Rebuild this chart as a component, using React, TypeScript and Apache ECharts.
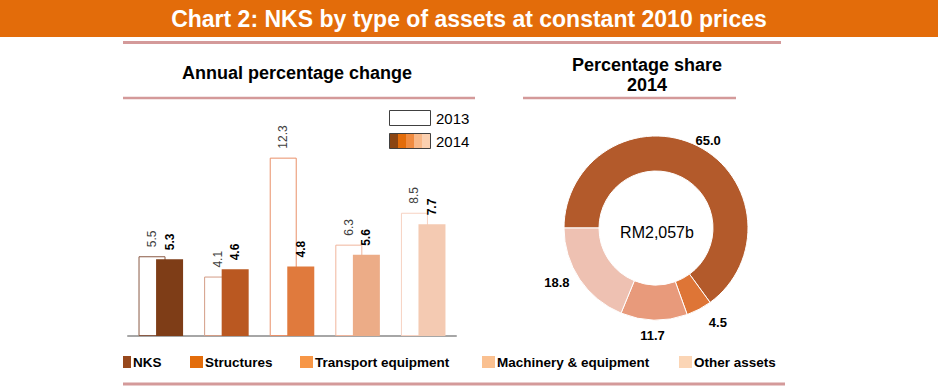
import React, { useEffect, useRef } from "react";
import * as echarts from "echarts";

const categories = ["NKS", "Structures", "Transport equipment", "Machinery & equipment", "Other assets"];
const change2013 = [5.5, 4.1, 12.3, 6.3, 8.5];
const change2014 = [5.3, 4.6, 4.8, 5.6, 7.7];
const shareCategories = ["Structures", "Transport equipment", "Machinery & equipment", "Other assets"];
const share2014 = [65.0, 4.5, 11.7, 18.8];
const yearLabels = ["2013", "2014"];
const chartTitle = "Chart 2: NKS by type of assets at constant 2010 prices";
const leftTitle = "Annual percentage change";
const rightTitle = ["Percentage share", "2014"];
const totalLabel = "RM2,057b";

const FONT = "'Liberation Sans', Arial, sans-serif";
const bar2014Colors = ["#7E3D17", "#BA5821", "#E07A3D", "#ECAC87", "#F4CAB2"];
const bar2013Borders = ["#8A5A44", "#D39C85", "#E99069", "#F0B59C", "#F7D2C2"];
const pieColors = ["#B35A2B", "#DE7536", "#E89A7B", "#EEC1B2"];
const pieLabelShift = [[-10, 0], [2, 8], [16, 10], [0, 0]];
const legendColors = ["#97481C", "#E36C0A", "#F79646", "#FAC090", "#FBD5B5"];
const stripeColors = ["#8B4513", "#E36C0A", "#F08B40", "#F8B888", "#FBD0B0"];
const legendX = [123, 190, 300, 482, 679];
const legendW = [8, 13, 13, 13, 13];
const LINE = "#D49A9A";

export default function App() {
  const ref = useRef<HTMLDivElement>(null);
  useEffect(() => {
    if (!ref.current) return;
    const chart = echarts.init(ref.current, undefined, { renderer: "svg" });

    const stops: any[] = [];
    stripeColors.forEach((c, i) => {
      stops.push({ offset: i / stripeColors.length, color: c });
      stops.push({ offset: (i + 1) / stripeColors.length, color: c });
    });

    const graphics: any[] = [
      { type: "rect", shape: { x: 0, y: 0, width: 938, height: 37 }, style: { fill: "#E36C0A" }, z: 0 },
      {
        type: "text", x: 469, y: 19,
        style: { text: chartTitle, fill: "#fff", font: `bold 23px ${FONT}`, textAlign: "center", textVerticalAlign: "middle" },
      },
      { type: "line", shape: { x1: 123, y1: 42.5, x2: 781, y2: 42.5 }, style: { stroke: LINE, lineWidth: 3 } },
      { type: "line", shape: { x1: 123, y1: 98, x2: 475, y2: 98 }, style: { stroke: LINE, lineWidth: 2.5 } },
      { type: "line", shape: { x1: 523, y1: 98, x2: 736, y2: 98 }, style: { stroke: LINE, lineWidth: 2.5 } },
      { type: "line", shape: { x1: 123, y1: 384, x2: 785, y2: 384 }, style: { stroke: LINE, lineWidth: 3 } },
      {
        type: "text", x: 297, y: 73,
        style: { text: leftTitle, fill: "#000", font: `bold 18px ${FONT}`, textAlign: "center", textVerticalAlign: "middle" },
      },
      {
        type: "text", x: 647, y: 65,
        style: { text: rightTitle[0], fill: "#000", font: `bold 18px ${FONT}`, textAlign: "center", textVerticalAlign: "middle" },
      },
      {
        type: "text", x: 647, y: 85,
        style: { text: rightTitle[1], fill: "#000", font: `bold 18px ${FONT}`, textAlign: "center", textVerticalAlign: "middle" },
      },
      {
        type: "text", x: 657, y: 232,
        style: { text: totalLabel, fill: "#000", font: `16px ${FONT}`, textAlign: "center", textVerticalAlign: "middle" },
      },
      { type: "rect", shape: { x: 389.5, y: 110.5, width: 41, height: 15 }, style: { fill: "#fff", stroke: "#404040", lineWidth: 1 } },
      {
        type: "text", x: 436, y: 118.5,
        style: { text: yearLabels[0], fill: "#000", font: `15px ${FONT}`, textAlign: "left", textVerticalAlign: "middle" },
      },
      {
        type: "rect", shape: { x: 389.5, y: 133.5, width: 41, height: 15 },
        style: {
          fill: new echarts.graphic.LinearGradient(0, 0, 1, 0, stops),
          stroke: "#404040", lineWidth: 1,
        },
      },
      {
        type: "text", x: 436, y: 141.5,
        style: { text: yearLabels[1], fill: "#000", font: `15px ${FONT}`, textAlign: "left", textVerticalAlign: "middle" },
      },
    ];
    categories.forEach((c, i) => {
      graphics.push({
        type: "rect", shape: { x: legendX[i], y: 356, width: legendW[i], height: 12 },
        style: { fill: legendColors[i] },
      });
      graphics.push({
        type: "text", x: legendX[i] + legendW[i] + 2, y: 362,
        style: { text: c, fill: "#000", font: `bold 13.5px ${FONT}`, textAlign: "left", textVerticalAlign: "middle" },
      });
    });

    chart.setOption({
      animation: false,
      textStyle: { fontFamily: FONT },
      grid: { left: 128, width: 328, top: 133, height: 203, containLabel: false, show: false },
      xAxis: {
        type: "category", data: categories,
        axisLine: { show: true, lineStyle: { color: "#A6A6A6", width: 2 } },
        axisTick: { show: false }, axisLabel: { show: false }, splitLine: { show: false },
      },
      yAxis: {
        type: "value", min: 0, max: 14, show: false,
        axisLine: { show: false }, axisTick: { show: false }, axisLabel: { show: false }, splitLine: { show: false },
      },
      series: [
        {
          type: "bar", name: yearLabels[0], barWidth: 27, barGap: "-35%",
          data: change2013.map((v, i) => ({
            value: v,
            itemStyle: { color: "#fff", borderColor: bar2013Borders[i], borderWidth: 1 },
          })),
          label: {
            show: true, position: "top", rotate: 90, align: "left", verticalAlign: "middle", distance: 9,
            fontSize: 12, color: "#404040", fontFamily: FONT,
            formatter: (p: any) => Number(p.value).toFixed(1),
          },
          silent: true,
        },
        {
          type: "bar", name: yearLabels[1], barWidth: 27,
          data: change2014.map((v, i) => ({ value: v, itemStyle: { color: bar2014Colors[i] } })),
          label: {
            show: true, position: "top", rotate: 90, align: "left", verticalAlign: "middle", distance: 9,
            fontSize: 12, fontWeight: "bold", color: "#000", fontFamily: FONT,
            formatter: (p: any) => Number(p.value).toFixed(1),
          },
          silent: true,
        },
        {
          type: "pie", center: [656, 228], radius: [57, 92], startAngle: 180, clockwise: true,
          avoidLabelOverlap: false, silent: true,
          data: share2014.map((v, i) => ({ name: shareCategories[i], value: v, itemStyle: { color: pieColors[i] } })),
          itemStyle: { borderColor: "#fff", borderWidth: 1 },
          label: {
            show: true, position: "outside", fontSize: 13, fontWeight: "bold", color: "#000", fontFamily: FONT,
            formatter: (p: any) => Number(p.value).toFixed(1),
          },
          labelLine: { show: false, length: 6, length2: 0 },
          labelLayout: (p: any) => ({ dx: pieLabelShift[p.dataIndex][0], dy: pieLabelShift[p.dataIndex][1] }),
        },
      ],
      graphic: graphics,
    });
    return () => chart.dispose();
  }, []);
  return <div ref={ref} style={{ position: "fixed", left: 0, top: 0, width: 938, height: 387, background: "#fff" }} />;
}
